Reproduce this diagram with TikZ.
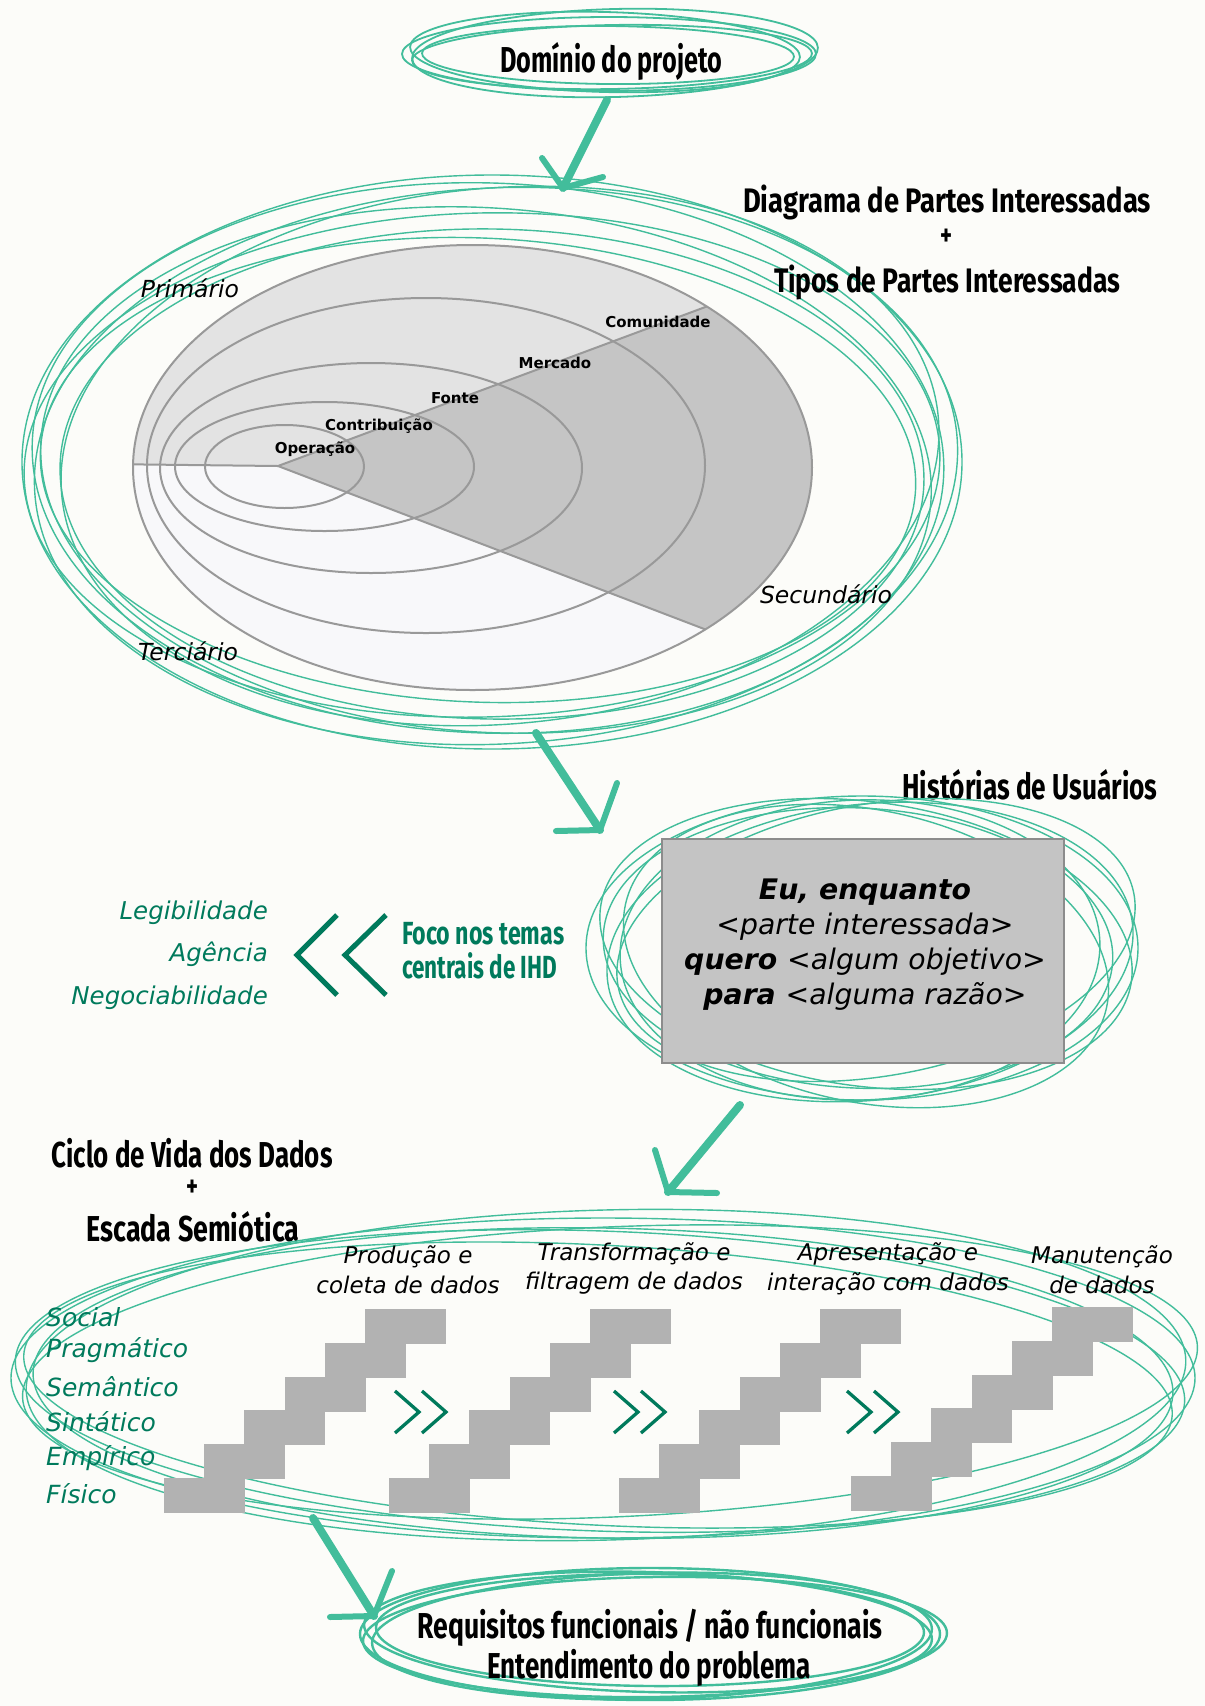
\documentclass[tikz,border=0pt]{standalone}
\usepackage{fontspec}
\usepackage{graphicx}
\setmainfont{DejaVu Sans}
\newfontfamily\handfont{Fira Sans}
\usetikzlibrary{calc}

\definecolor{paper}{RGB}{252,252,249}
\definecolor{sketchgreen}{RGB}{66,189,155}
\definecolor{ihdgreen}{RGB}{0,122,92}
\definecolor{ringline}{RGB}{153,153,153}
\definecolor{zoneA}{RGB}{227,227,227}
\definecolor{zoneB}{RGB}{197,197,197}
\definecolor{zoneC}{RGB}{248,248,250}
\definecolor{storygray}{RGB}{196,196,196}
\definecolor{storyedge}{RGB}{140,140,140}
\definecolor{stairgray}{RGB}{178,178,178}

% hand-lettered heading: size, target width, text
\newcommand{\hw}[3]{{\handfont\bfseries\fontsize{#1}{#1}\selectfont\resizebox{#2pt}{\height}{#3}}}

\tikzset{
  sketch/.style={draw=sketchgreen, line width=1.4pt},
  sketchbold/.style={draw=sketchgreen, line width=2.4pt},
  flowshaft/.style={draw=sketchgreen, line width=8pt, line cap=round},
  flowhead/.style={draw=sketchgreen, line width=6pt, line cap=round, line join=round},
  heading/.style={inner sep=0pt, anchor=base, text=black},
  ringname/.style={inner sep=0pt, anchor=base, font=\fontsize{15}{15}\selectfont\bfseries},
  zonename/.style={inner sep=0pt, anchor=base, font=\fontsize{23.5}{24}\selectfont\itshape},
  levelname/.style={inner sep=0pt, anchor=base west, text=ihdgreen, font=\fontsize{25}{25}\selectfont\itshape},
  themename/.style={inner sep=0pt, anchor=base east, text=ihdgreen, font=\fontsize{24.5}{25}\selectfont\itshape},
  phasename/.style={inner sep=0pt, anchor=base, font=\fontsize{23}{23}\selectfont\itshape},
  storyline/.style={inner sep=0pt, anchor=base, font=\fontsize{28.3}{29}\selectfont},
  bigchev/.style={draw=ihdgreen, line width=5pt},
  smallchev/.style={draw=ihdgreen, line width=3.3pt},
  ring/.style={draw=ringline, line width=2pt},
}

\begin{document}
\begin{tikzpicture}[x=1pt, y=-1pt]
\fill[paper] (0,0) rectangle (1205,1706);
\useasboundingbox (0,0) rectangle (1205,1706);

% ---------- project domain ----------
\foreach \cx/\cy/\rot/\rx/\ry in {609/54/0/207/37, 605/52/-1.5/195/40, 612/57/1/200/32, 608/55/-0.5/186/29, 615/53/1.5/203/44}
  \draw[sketch, line width=1.8pt, shift={(\cx,\cy)}, rotate=\rot] (0,0) ellipse [x radius=\rx pt, y radius=\ry pt];
\node[heading] (domain) at (611,72) {\hw{36}{222}{Domínio do projeto}};

\coordinate (a1s) at (607,100); \coordinate (a1t) at (563,188);
\coordinate (a1l) at (542,158); \coordinate (a1r) at (603,177);
\draw[flowshaft] (a1s) -- (a1t);
\draw[flowhead] (a1l) -- (a1t) -- (a1r);

% ---------- stakeholder diagram ----------
\foreach \cx/\cy/\rot/\rx/\ry in {492/462/0/470/287, 488/458/-2/456/275, 496/466/3/462/278, 486/470/-4/446/262, 500/456/5/440/268, 482/465/1.5/458/252, 492/474/-1/432/245, 478/470/-2.5/438/232}
  \draw[sketch, shift={(\cx,\cy)}, rotate=\rot] (0,0) ellipse [x radius=\rx pt, y radius=\ry pt];

\coordinate (pivot) at (278,466);
\begin{scope}
  \clip (472.5,467.5) ellipse [x radius=339.5pt, y radius=222.5pt];
  \fill[zoneA] (pivot) -- (100,464) -- (100,150) -- (950,150) -- (950,216) -- cycle;
  \fill[zoneB] (pivot) -- (950,216) -- (950,723) -- cycle;
  \fill[zoneC] (pivot) -- (950,723) -- (950,800) -- (100,800) -- (100,464) -- cycle;
  \draw[ring] (284.5,466.5) ellipse [x radius=79.5pt, y radius=41.5pt];
  \draw[ring] (324.5,466.5) ellipse [x radius=149.5pt, y radius=64.5pt];
  \draw[ring] (371,468) ellipse [x radius=211pt, y radius=105pt];
  \draw[ring] (426,465.5) ellipse [x radius=279pt, y radius=167.5pt];
  \draw[ring] (100,464) -- (pivot) -- (950,216);
  \draw[ring] (pivot) -- (950,723);
\end{scope}
\draw[ring] (472.5,467.5) ellipse [x radius=339.5pt, y radius=222.5pt];

\node[ringname] (r1) at (315,453) {Operação};
\node[ringname] (r2) at (379,430) {Contribuição};
\node[ringname] (r3) at (455,403) {Fonte};
\node[ringname] (r4) at (555,368) {Mercado};
\node[ringname] (r5) at (658,327) {Comunidade};

\node[zonename] (prim) at (190,297) {Primário};
\node[zonename] (terc) at (188,660) {Terciário};
\node[zonename] (secu) at (826,603) {Secundário};

\node[heading] (t1) at (947,212) {\hw{34}{408}{Diagrama de Partes Interessadas}};
\node[heading] (t2) at (946,245) {\hw{30}{12}{+}};
\node[heading] (t3) at (947,292) {\hw{34}{346}{Tipos de Partes Interessadas}};

\coordinate (a2s) at (536,733); \coordinate (a2t) at (600,830);
\coordinate (a2l) at (556,831); \coordinate (a2r) at (617,783);
\draw[flowshaft] (a2s) -- (a2t);
\draw[flowhead] (a2l) -- (a2t) -- (a2r);

% ---------- user stories ----------
\node[heading] (us) at (1030,799) {\hw{36}{255}{Histórias de Usuários}};
\foreach \cx/\cy/\rot/\rx/\ry in {862/948/0/276/152, 866/944/-8/268/142, 870/952/6/264/148, 858/948/-3/255/140, 876/940/10/262/136, 866/956/-12/246/146, 860/950/2/240/150}
  \draw[sketch, shift={(\cx,\cy)}, rotate=\rot] (0,0) ellipse [x radius=\rx pt, y radius=\ry pt];
\node[draw=storyedge, line width=2pt, fill=storygray, minimum width=402pt, minimum height=224pt, inner sep=0pt] (story) at (863,951) {};
\node[storyline] (s1) at (865,899) {\bfseries\itshape Eu, enquanto};
\node[storyline] (s2) at (865,934) {\itshape <parte interessada>};
\node[storyline] (s3) at (865,969) {\bfseries\itshape quero \mdseries<algum objetivo>};
\node[storyline] (s4) at (865,1004) {\bfseries\itshape para \mdseries<alguma razão>};

\node[themename] (th1) at (268,919) {Legibilidade};
\node[themename] (th2) at (268,961) {Agência};
\node[themename] (th3) at (268,1004) {Negociabilidade};
\draw[bigchev] (337,915) -- (297,955) -- (337,995);
\draw[bigchev] (386,915) -- (345,955) -- (386,995);
\node[heading, anchor=base west, text=ihdgreen, align=left, inner sep=0pt, font=\fontsize{32}{34}\selectfont] (focus) at (402,978)
  {\hw{32}{162}{Foco nos temas}\\\hw{32}{155}{centrais de IHD}};

\coordinate (a3s) at (740,1105); \coordinate (a3t) at (668,1192);
\coordinate (a3l) at (655,1150); \coordinate (a3r) at (717,1193);
\draw[flowshaft] (a3s) -- (a3t);
\draw[flowhead] (a3l) -- (a3t) -- (a3r);

% ---------- data life cycle + semiotic ladder ----------
\node[heading] (c1) at (192,1167) {\hw{36}{281}{Ciclo de Vida dos Dados}};
\node[heading] (c2) at (192,1196) {\hw{30}{12}{+}};
\node[heading] (c3) at (193,1241) {\hw{36}{213}{Escada Semiótica}};

\foreach \cx/\cy/\rot/\rx/\ry in {603/1378/0/592/160, 600/1381/-2/585/150, 606/1375/1.5/580/165, 598/1385/-3/575/140, 610/1372/2.5/588/145, 603/1383/-1/570/155}
  \draw[sketch, shift={(\cx,\cy)}, rotate=\rot] (0,0) ellipse [x radius=\rx pt, y radius=\ry pt];

\foreach \sx/\sy in {164/1478, 389/1478, 619/1478, 851/1476}
  \foreach \i in {0,...,5}
    \fill[stairgray] (\sx+40.2*\i, \sy-33.8*\i) rectangle ++(81,35);

\foreach \px in {395, 614, 847} {
  \draw[smallchev] (\px,1391) -- (\px+24,1412) -- (\px,1433);
  \draw[smallchev] (\px+27,1391) -- (\px+51,1412) -- (\px+27,1433);
}

\node[levelname] (l1) at (46,1326) {Social};
\node[levelname] (l2) at (46,1357) {Pragmático};
\node[levelname] (l3) at (46,1396) {Semântico};
\node[levelname] (l4) at (46,1431) {Sintático};
\node[levelname] (l5) at (46,1465) {Empírico};
\node[levelname] (l6) at (46,1503) {Físico};

\node[phasename] (p1a) at (408,1263) {Produção e};
\node[phasename] (p1b) at (408,1293) {coleta de dados};
\node[phasename] (p2a) at (634,1260) {Transformação e};
\node[phasename] (p2b) at (634,1289) {filtragem de dados};
\node[phasename] (p3a) at (888,1260) {Apresentação e};
\node[phasename] (p3b) at (888,1290) {interação com dados};
\node[phasename] (p4a) at (1102,1263) {Manutenção};
\node[phasename] (p4b) at (1102,1293) {de dados};

\coordinate (a4s) at (313,1518); \coordinate (a4t) at (374,1616);
\coordinate (a4l) at (330,1617); \coordinate (a4r) at (392,1571);
\draw[flowshaft] (a4s) -- (a4t);
\draw[flowhead] (a4l) -- (a4t) -- (a4r);

% ---------- requirements ----------
\foreach \cx/\cy/\rot/\rx/\ry in {650/1634/0/290/66, 648/1632/-1.5/284/60, 652/1636/1.5/280/63, 650/1630/-0.5/274/56, 655/1637/0.8/292/60}
  \draw[sketchbold, shift={(\cx,\cy)}, rotate=\rot] (0,0) ellipse [x radius=\rx pt, y radius=\ry pt];
\node[heading] (req1) at (650,1638) {\hw{36}{465}{Requisitos funcionais / não funcionais}};
\node[heading] (req2) at (649,1678) {\hw{36}{324}{Entendimento do problema}};

\end{tikzpicture}
\end{document}
